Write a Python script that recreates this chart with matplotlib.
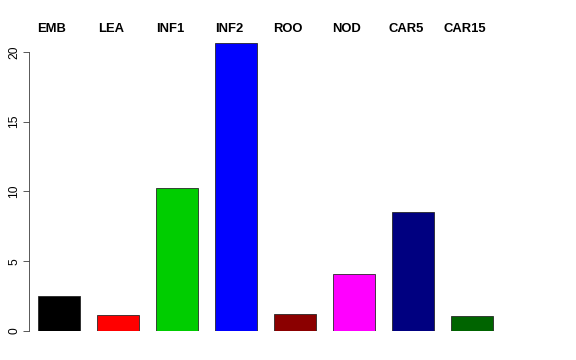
import matplotlib
matplotlib.use("Agg")
import matplotlib.pyplot as plt
import matplotlib.transforms as mtransforms
import numpy as np

plt.rcParams['font.family'] = ['Liberation Sans', 'DejaVu Sans']

labels = ["EMB", "LEA", "INF1", "INF2", "ROO", "NOD", "CAR5", "CAR15"]
values = [2.48, 1.12, 10.24, 20.64, 1.24, 4.08, 8.54, 1.1]
colors = ["#000000", "#FF0000", "#00CD00", "#0000FF",
          "#8B0000", "#FF00FF", "#000080", "#006400"]
yticks = [0, 5, 10, 15, 20]

fig = plt.figure(figsize=(8, 5), dpi=72)
ax = fig.add_axes([29 / 576, 29 / 360, (501.5 - 29) / 576, (331 - 43) / 360])

x = np.arange(len(labels))
width = 0.7
ax.bar(x, values, width=width, color=colors, edgecolor="#222222", linewidth=0.8)

ax.set_xlim(-0.508, 7.5)
ax.set_ylim(0, max(values))

for side in ["top", "right", "bottom"]:
    ax.spines[side].set_visible(False)
ax.spines["left"].set_bounds(0, 20)
ax.spines["left"].set_color("#333333")
ax.set_xticks([])
ax.set_yticks(yticks)
ax.set_yticklabels([str(t) for t in yticks], rotation=90, va="center", fontsize=12)
ax.tick_params(axis="y", length=6, width=0.8, color="#333333", pad=3)

# group names sit a little left of each bar's centre
trans = mtransforms.blended_transform_factory(ax.transData, fig.transFigure)
for xi, lab in zip(x, labels):
    ax.text(xi - 0.12, (360 - 29) / 360, lab, transform=trans,
            ha="center", va="center", fontsize=13, fontweight="bold")

fig.savefig("out.png", dpi=72)
